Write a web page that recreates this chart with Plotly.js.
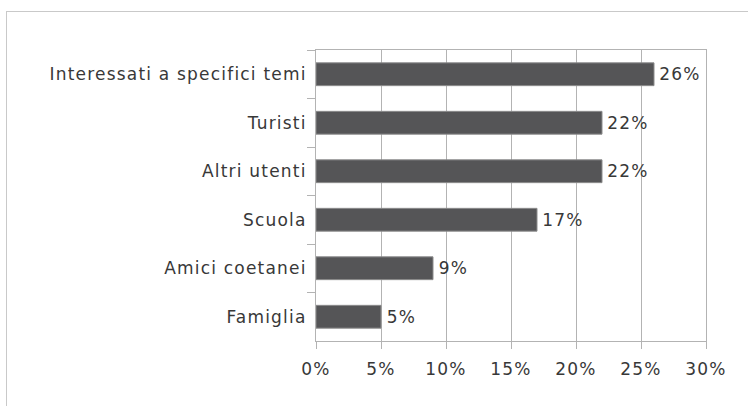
<!DOCTYPE html>
<html>
<head>
<meta charset="utf-8">
<script src="https://cdn.plot.ly/plotly-3.0.1.min.js"></script>
<style>
  html, body { margin: 0; padding: 0; background: #ffffff; }
  #wrap { position: relative; width: 748px; height: 406px; overflow: hidden; }
  #frame { position: absolute; left: 6px; top: 11px; width: 800px; height: 500px; border: 1px solid #c9c9c9; box-sizing: border-box; pointer-events: none; }
  #chart { position: absolute; left: 0; top: 0; width: 748px; height: 406px; }
  #chart .ytick text, #chart .xtick text, #chart .bartext { letter-spacing: 1.2px; }
</style>
</head>
<body>
<div id="wrap">
  <div id="chart"></div>
  <div id="frame"></div>
</div>
<script>
const categories = ["Interessati a specifici temi", "Turisti", "Altri utenti", "Scuola", "Amici coetanei", "Famiglia"];
const values = [26, 22, 22, 17, 9, 5];
const valueLabels = ["26%", "22%", "22%", "17%", "9%", "5%"];
const xTickValues = [0, 5, 10, 15, 20, 25, 30];
const xTickLabels = ["0%", "5%", "10%", "15%", "20%", "25%", "30%"];

const fontFamily = "DejaVu Sans, sans-serif";
const textColor = "#383838";
const gridColor = "#b3b3b3";
const fontSize = 17;

const trace = {
  type: "bar",
  orientation: "h",
  y: categories,
  x: values,
  text: valueLabels,
  texttemplate: "\u2009%{text}",
  textposition: "outside",
  cliponaxis: false,
  textfont: { family: fontFamily, size: fontSize, color: textColor },
  marker: { color: "#555557", line: { color: "#8c8c8c", width: 1 } },
  hoverinfo: "none"
};

const layout = {
  width: 748,
  height: 406,
  margin: { l: 316, r: 42, t: 50, b: 65, pad: 0 },
  paper_bgcolor: "#ffffff",
  plot_bgcolor: "#ffffff",
  showlegend: false,
  bargap: 0.53,
  font: { family: fontFamily, size: fontSize, color: textColor },
  xaxis: {
    range: [0, 30],
    tickvals: xTickValues,
    ticktext: xTickLabels,
    showgrid: true,
    gridcolor: gridColor,
    gridwidth: 1,
    zeroline: false,
    showline: true,
    linecolor: gridColor,
    linewidth: 1,
    mirror: true,
    ticks: "outside",
    ticklen: 7,
    tickcolor: gridColor,
    tickfont: { family: fontFamily, size: fontSize, color: textColor },
    ticklabelstandoff: 6,
    fixedrange: true
  },
  yaxis: {
    type: "category",
    autorange: "reversed",
    showgrid: false,
    zeroline: false,
    showline: true,
    linecolor: gridColor,
    linewidth: 1,
    mirror: true,
    ticks: "outside",
    tickson: "boundaries",
    ticklen: 8,
    tickcolor: gridColor,
    tickfont: { family: fontFamily, size: fontSize, color: textColor },
    ticklabelstandoff: 5,
    fixedrange: true
  }
};

Plotly.newPlot("chart", [trace], layout, { staticPlot: true, displayModeBar: false });
</script>
</body>
</html>
